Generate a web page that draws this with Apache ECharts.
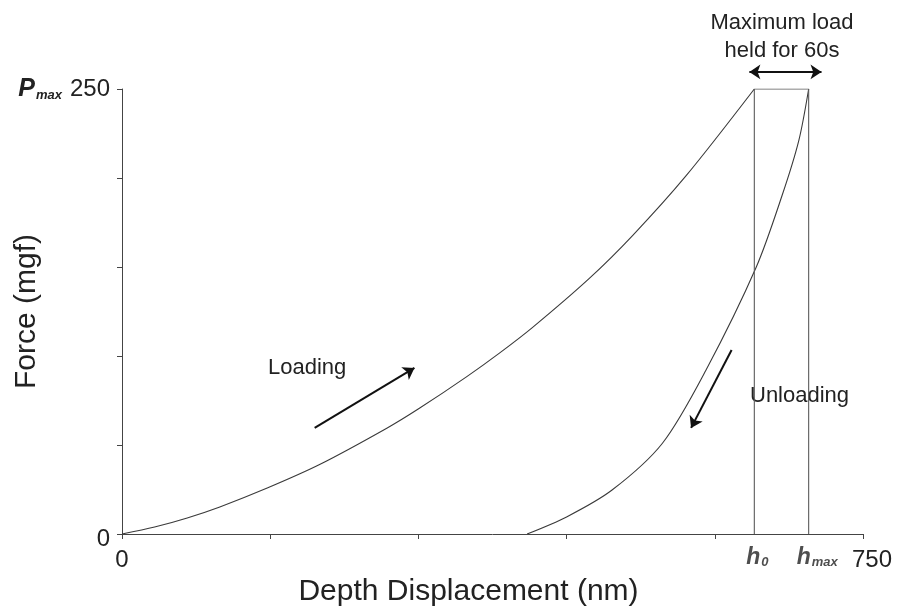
<!DOCTYPE html>
<html>
<head>
<meta charset="utf-8">
<script src="https://cdn.jsdelivr.net/npm/echarts@6/dist/echarts.min.js"></script>
<style>
  html, body { margin: 0; padding: 0; background: #fff; }
  #chart { width: 898px; height: 614px; }
</style>
</head>
<body>
<div id="chart"></div>
<script>
// Indentation load–displacement curve (depth in nm, force in mgf)
const loadDepth   = [0, 33, 66, 99, 147, 200, 268, 301, 349, 382, 415, 473, 517, 571, 640];
const loadForce   = [0, 3.9, 9.0, 15.2, 25.8, 39.0, 59.4, 70.6, 88.4, 101.6, 115.8, 143.6, 167.8, 201.3, 250];
const unloadDepth = [695, 685, 668, 642, 591, 547, 496, 450, 410];
const unloadForce = [250, 221, 190, 150, 92, 51, 24.7, 9.6, 0];

const pMax = 250;      // maximum load
const h0 = 640;        // depth when maximum load is reached
const hMax = 695;      // depth after the load hold
const xTicks = [0, 750];
const yTicks = [0, 250];

// Direction arrows: [startDepth, startForce, endDepth, endForce]
const loadingArrow   = [195, 59.6, 296, 93.3];
const unloadingArrow = [617, 103.4, 576, 59.6];
const holdArrow      = [635, 259.6, 708, 259.6];

const FONT = '"Liberation Sans", Arial, Helvetica, sans-serif';
const INK = '#222';

const zip = (xs, ys) => xs.map((x, i) => [x, ys[i]]);

const chart = echarts.init(document.getElementById('chart'), null, { renderer: 'canvas' });

chart.setOption({
  backgroundColor: '#fff',
  animation: false,
  grid: { left: 122, right: 35, top: 89, bottom: 80, containLabel: false, outerBoundsMode: 'none' },
  xAxis: {
    type: 'value', min: 0, max: 750, interval: 150,
    name: 'Depth Displacement (nm)', nameLocation: 'middle', nameGap: 43, nameMoveOverlap: false,
    nameTextStyle: { fontFamily: FONT, fontSize: 30, color: INK, padding: [0, 48, 0, 0] },
    axisLine: { lineStyle: { color: '#444', width: 1 } },
    axisTick: { show: true, inside: false, length: 5, lineStyle: { color: '#444' } },
    splitLine: { show: false },
    axisLabel: {
      margin: 14, fontFamily: FONT, fontSize: 24, color: INK, showMaxLabel: true, showMinLabel: true,
      formatter: v => xTicks.includes(v) ? (v === 750 ? '{r|' + v + '}' : String(v)) : '',
      rich: { r: { fontFamily: FONT, fontSize: 24, color: INK, padding: [0, 0, 0, 18] } }
    }
  },
  yAxis: {
    type: 'value', min: 0, max: 250, interval: 50,
    name: 'Force (mgf)', nameLocation: 'middle', nameRotate: 90, nameGap: 80, nameMoveOverlap: false,
    nameTextStyle: { fontFamily: FONT, fontSize: 30, color: INK },
    axisLine: { show: true, lineStyle: { color: '#444', width: 1 } },
    axisTick: { show: true, inside: false, length: 5, lineStyle: { color: '#444' } },
    splitLine: { show: false },
    axisLabel: {
      margin: 12, fontFamily: FONT, fontSize: 24, color: INK, showMaxLabel: true,
      formatter: v => {
        if (!yTicks.includes(v)) return '';
        return v === pMax ? '{p|P}{s|max}{n|' + v + '}' : '{z|' + v + '}';
      },
      rich: {
        p: { fontFamily: FONT, fontSize: 25, fontWeight: 'bold', fontStyle: 'italic', color: INK },
        s: { fontFamily: FONT, fontSize: 13, fontWeight: 'bold', fontStyle: 'italic', color: INK,
             verticalAlign: 'bottom', padding: [10, 8, 0, 1] },
        n: { fontFamily: FONT, fontSize: 24, color: INK },
        z: { fontFamily: FONT, fontSize: 24, color: INK, padding: [10, 0, 0, 0] }
      }
    }
  },
  series: [
    {
      name: 'Loading', type: 'line', data: zip(loadDepth, loadForce),
      smooth: 0.3, showSymbol: false, lineStyle: { color: '#3a3a3a', width: 1.1 }
    },
    {
      name: 'Unloading', type: 'line', data: zip(unloadDepth, unloadForce),
      smooth: 0.3, showSymbol: false, lineStyle: { color: '#3a3a3a', width: 1.1 }
    },
    {
      // load hold at Pmax, with h0 and hmax verticals
      name: 'Hold', type: 'line',
      data: [[h0, 0], [h0, pMax], [hMax, pMax], [hMax, 0]],
      showSymbol: false, lineStyle: { color: '#5a5a5a', width: 1.1 }
    },
    {
      // depth markers below the axis
      name: 'Depth marks', type: 'scatter', symbolSize: 0, clip: false, silent: true,
      data: [
        { value: [h0, 0], label: { formatter: '{h|h}{s|0}', offset: [-8, 0] } },
        { value: [hMax, 0], label: { formatter: '{h|h}{s|max}', offset: [-12, 0] } }
      ],
      label: {
        show: true, position: 'bottom', align: 'left', distance: 12,
        rich: {
          h: { fontFamily: FONT, fontSize: 23, fontWeight: 'bold', fontStyle: 'italic', color: INK },
          s: { fontFamily: FONT, fontSize: 13, fontWeight: 'bold', fontStyle: 'italic', color: INK,
               verticalAlign: 'bottom', padding: [8, 0, 0, 1] }
        }
      }
    },
    {
      name: 'Arrows', type: 'lines', coordinateSystem: 'cartesian2d', clip: false, silent: true,
      lineStyle: { color: '#111', width: 2, opacity: 1 },
      symbolSize: 11,
      data: [
        { coords: [[loadingArrow[0], loadingArrow[1]], [loadingArrow[2], loadingArrow[3]]], symbol: ['none', 'arrow'] },
        { coords: [[unloadingArrow[0], unloadingArrow[1]], [unloadingArrow[2], unloadingArrow[3]]], symbol: ['none', 'arrow'] },
        { coords: [[holdArrow[0], holdArrow[1]], [holdArrow[2], holdArrow[3]]], symbol: ['arrow', 'arrow'] }
      ]
    }
  ],
  graphic: [
    { type: 'text', left: 268, top: 357, style: { text: 'Loading', font: '22px ' + FONT, fill: INK } },
    { type: 'text', left: 750, top: 385, style: { text: 'Unloading', font: '22px ' + FONT, fill: INK } },
    {
      type: 'text', x: 782, y: 9,
      style: { text: 'Maximum load\nheld for 60s', font: '22px ' + FONT, fill: INK,
               align: 'center', lineHeight: 28 }
    }
  ]
});
</script>
</body>
</html>
